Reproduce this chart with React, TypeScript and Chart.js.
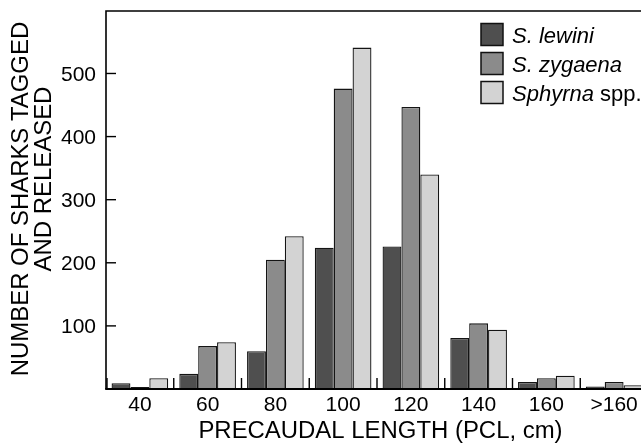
import React, { useEffect, useRef } from "react";
import { Chart, registerables } from "chart.js";

Chart.register(...registerables);

// ---- data ----
const categories = ["40", "60", "80", "100", "120", "140", "160", ">160"];
const lewini = [9, 24, 60, 224, 226, 81, 11, 4];
const zygaena = [3, 68, 205, 476, 447, 104, 17, 11];
const sphyrna = [17, 74, 242, 541, 340, 94, 21, 6];
const seriesLabels = ["S. lewini", "S. zygaena", "Sphyrna spp."];
const legendItalic = ["S. lewini", "S. zygaena", "Sphyrna"];
const legendRoman = ["", "", " spp."];
const yTickValues = [100, 200, 300, 400, 500];
const xTitle = "PRECAUDAL LENGTH (PCL, cm)";
const yTitleLines = ["NUMBER OF SHARKS TAGGED", "AND RELEASED"];

// ---- styles ----
const colors = ["#4f4f4f", "#8b8b8b", "#d3d3d3"];
const FONT = "'Liberation Sans', Arial, Helvetica, sans-serif";
const TITLE_STRETCH = 1.04;

const decorPlugin = {
  id: "decor",
  afterDraw(chart: any) {
    const { ctx, chartArea: a, scales } = chart;
    const xs = scales.x;
    const ys = scales.y;
    ctx.save();
    ctx.strokeStyle = "#000";
    ctx.fillStyle = "#000";
    // left axis + top frame
    ctx.lineWidth = 1.6;
    ctx.beginPath();
    ctx.moveTo(a.left, a.bottom);
    ctx.lineTo(a.left, a.top);
    ctx.lineTo(a.right + 10, a.top);
    ctx.stroke();
    // bottom axis
    ctx.lineWidth = 2;
    ctx.beginPath();
    ctx.moveTo(a.left - 0.8, a.bottom);
    ctx.lineTo(a.right + 10, a.bottom);
    ctx.stroke();
    // inward y ticks + labels
    ctx.lineWidth = 1.4;
    ctx.font = `21px ${FONT}`;
    ctx.textAlign = "right";
    ctx.textBaseline = "alphabetic";
    yTickValues.forEach((v) => {
      const y = ys.getPixelForValue(v);
      ctx.beginPath();
      ctx.moveTo(a.left, y);
      ctx.lineTo(a.left + 10, y);
      ctx.stroke();
      ctx.fillText(String(v), a.left - 10, y + 7.3);
    });
    // group separators on x axis
    for (let i = 0; i < categories.length; i++) {
      const x = i === 0 ? a.left + 1 : (xs.getPixelForValue(i - 1) + xs.getPixelForValue(i)) / 2;
      ctx.beginPath();
      ctx.moveTo(x, a.bottom);
      ctx.lineTo(x, a.bottom - 11);
      ctx.stroke();
    }
    // legend
    const lx = 481;
    const ly = 23.5;
    const step = 29;
    const box = 22;
    chart.data.datasets.forEach((ds: any, i: number) => {
      const top = ly + i * step;
      ctx.fillStyle = ds.backgroundColor;
      ctx.fillRect(lx, top, box, box);
      ctx.lineWidth = 1.5;
      ctx.strokeStyle = "#111";
      ctx.strokeRect(lx, top, box, box);
      ctx.fillStyle = "#000";
      ctx.textAlign = "left";
      ctx.textBaseline = "alphabetic";
      const base = top + box / 2 + 8.5;
      ctx.font = `italic 22px ${FONT}`;
      ctx.fillText(legendItalic[i], 512, base);
      const w = ctx.measureText(legendItalic[i]).width;
      if (legendRoman[i]) {
        ctx.font = `22px ${FONT}`;
        ctx.fillText(legendRoman[i], 512 + w, base);
      }
    });
    // x title
    ctx.save();
    ctx.font = `23px ${FONT}`;
    ctx.textAlign = "center";
    ctx.textBaseline = "alphabetic";
    ctx.translate(380.5, 438);
    ctx.scale(TITLE_STRETCH, 1);
    ctx.fillText(xTitle, 0, 0);
    ctx.restore();
    // y title (two lines, rotated)
    const yCenters = [
      [19.5, 199],
      [42.5, 179],
    ];
    yTitleLines.forEach((line, i) => {
      ctx.save();
      ctx.translate(yCenters[i][0], yCenters[i][1]);
      ctx.rotate(-Math.PI / 2);
      ctx.scale(TITLE_STRETCH, 1);
      ctx.font = `23px ${FONT}`;
      ctx.textAlign = "center";
      ctx.textBaseline = "alphabetic";
      ctx.fillText(line, 0, 8.2);
      ctx.restore();
    });
    ctx.restore();
  },
};

export default function App() {
  const ref = useRef<HTMLCanvasElement | null>(null);
  useEffect(() => {
    if (!ref.current) return;
    const chart = new Chart(ref.current, {
      type: "bar",
      data: {
        labels: categories,
        datasets: [lewini, zygaena, sphyrna].map((d, i) => ({
          label: seriesLabels[i],
          data: d,
          backgroundColor: colors[i],
          borderColor: "#141414",
          borderWidth: 1.3,
          categoryPercentage: 0.836,
          barPercentage: 1.0,
        })),
      },
      options: {
        responsive: false,
        animation: false,
        devicePixelRatio: 1,
        layout: { padding: { top: 11, right: 4, left: 0, bottom: 0 } },
        plugins: {
          legend: { display: false },
          tooltip: { enabled: false },
          title: { display: false },
        },
        scales: {
          x: {
            grid: { display: false, drawTicks: false },
            border: { display: false },
            ticks: {
              color: "#000",
              font: { family: FONT, size: 21 },
              padding: 4,
              maxRotation: 0,
              autoSkip: false,
            },
            afterFit(scale: any) {
              scale.height = 55;
              scale.paddingLeft = 0;
              scale.paddingRight = 0;
            },
          },
          y: {
            min: 0,
            max: 599,
            grid: { display: false, drawTicks: false },
            border: { display: false },
            ticks: { display: false, stepSize: 100 },
            afterFit(scale: any) {
              scale.width = 106;
              scale.paddingTop = 0;
              scale.paddingBottom = 0;
            },
          },
        },
      },
      plugins: [decorPlugin],
    });
    return () => chart.destroy();
  }, []);
  return (
    <div
      style={{
        position: "fixed",
        left: 0,
        top: 0,
        width: 641,
        height: 444,
        overflow: "hidden",
        background: "#fff",
      }}
    >
      <canvas ref={ref} width={652} height={444} style={{ display: "block" }} />
    </div>
  );
}
